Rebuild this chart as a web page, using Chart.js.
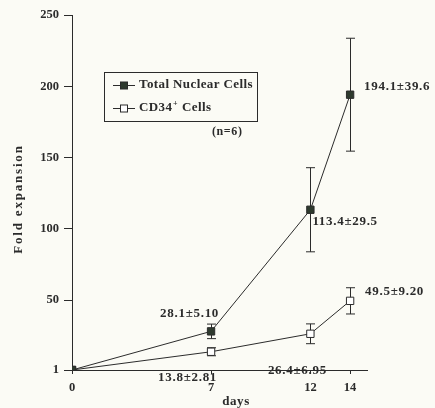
<!DOCTYPE html>
<html lang="en">
<head>
<meta charset="UTF-8">
<title>Fold expansion</title>
<script src="https://cdn.jsdelivr.net/npm/chart.js"></script>
<style>
  html, body { margin: 0; padding: 0; background: #fbfbf5; }
</style>
</head>
<body>
<canvas id="foldChart" width="435" height="408"></canvas>
<script>
// data
const days = [0, 7, 12, 14];
const totalCells = [1, 28.1, 113.4, 194.1];
const totalSD = [0, 5.10, 29.5, 39.6];
const cd34Cells = [1, 13.8, 26.4, 49.5];
const cd34SD = [0, 2.81, 6.95, 9.20];
const yTicks = [1, 50, 100, 150, 200, 250];
const totalLabels = ['', '28.1\u00b15.10', '113.4\u00b129.5', '194.1\u00b139.6'];
const cd34Labels = ['', '13.8\u00b12.81', '26.4\u00b16.95', '49.5\u00b19.20'];

const ink = '#2b2b2b';
const serif = '"Liberation Serif", "DejaVu Serif", serif';

// offsets of the value labels from their marker (dx, dy, align)
const totalOffsets = [null, [8, -18, 'right'], [2, 12, 'left'], [14, -8, 'left']];
const cd34Offsets = [null, [6, 26, 'right'], [-13, 37, 'center'], [15, -9, 'left']];

const extras = {
    id: 'extras',
    beforeDraw(chart) {
        const ctx = chart.ctx;
        ctx.save();
        ctx.fillStyle = '#fbfbf5';
        ctx.fillRect(0, 0, chart.width, chart.height);
        ctx.restore();
    },
    beforeDatasetsDraw(chart) {
        // error bars
        const {ctx, scales: {x, y}} = chart;
        ctx.save();
        ctx.strokeStyle = ink;
        ctx.lineWidth = 1;
        [[totalCells, totalSD], [cd34Cells, cd34SD]].forEach(([vals, sds]) => {
            vals.forEach((v, i) => {
                if (!sds[i]) return;
                const px = Math.round(x.getPixelForValue(days[i])) + 0.5;
                const top = y.getPixelForValue(v + sds[i]);
                const bot = y.getPixelForValue(v - sds[i]);
                ctx.beginPath();
                ctx.moveTo(px, top); ctx.lineTo(px, bot);
                ctx.moveTo(px - 4.5, top); ctx.lineTo(px + 4.5, top);
                ctx.moveTo(px - 4.5, bot); ctx.lineTo(px + 4.5, bot);
                ctx.stroke();
            });
        });
        ctx.restore();
    },
    afterDatasetsDraw(chart) {
        const {ctx, scales: {x, y}} = chart;
        ctx.save();
        ctx.fillStyle = ink;
        ctx.textBaseline = 'middle';

        // value labels
        ctx.font = 'bold 13px ' + serif;
        ctx.letterSpacing = '0.7px';
        const put = (vals, labels, offs) => {
            vals.forEach((v, i) => {
                if (!labels[i]) return;
                const [dx, dy, al] = offs[i];
                ctx.textAlign = al;
                ctx.fillText(labels[i], x.getPixelForValue(days[i]) + dx, y.getPixelForValue(v) + dy);
            });
        };
        put(totalCells, totalLabels, totalOffsets);
        put(cd34Cells, cd34Labels, cd34Offsets);

        // n=6 note
        ctx.font = 'bold 12px ' + serif;
        ctx.letterSpacing = '0.6px';
        ctx.textAlign = 'left';
        ctx.fillText('(n=6)', 212, 132);

        // axis titles
        ctx.font = 'bold 13px ' + serif;
        ctx.letterSpacing = '0.6px';
        ctx.textAlign = 'center';
        ctx.fillText('days', 236, 402);
        ctx.save();
        ctx.translate(19, 199);
        ctx.rotate(-Math.PI / 2);
        ctx.letterSpacing = '1.8px';
        ctx.fillText('Fold expansion', 0, 0);
        ctx.restore();

        // legend box
        ctx.strokeStyle = ink;
        ctx.lineWidth = 1;
        ctx.strokeRect(104.5, 72.5, 153, 49);
        const ds = chart.data.datasets;
        [85, 108].forEach((ly, k) => {
            ctx.beginPath();
            ctx.moveTo(113, ly + 0.5); ctx.lineTo(135, ly + 0.5);
            ctx.stroke();
            ctx.fillStyle = ds[k].pointBackgroundColor;
            ctx.fillRect(120.5, ly - 3, 7, 7);
            ctx.strokeRect(120.5, ly - 3, 7, 7);
        });
        ctx.fillStyle = ink;
        ctx.textAlign = 'left';
        ctx.letterSpacing = '0.4px';
        ctx.font = 'bold 13px ' + serif;
        ctx.fillText('Total Nuclear Cells', 139, 85);
        ctx.fillText('CD34', 139, 108);
        const w = ctx.measureText('CD34').width;
        ctx.font = 'bold 8px ' + serif;
        ctx.fillText('+', 139 + w + 0.5, 104);
        const w2 = ctx.measureText('+').width;
        ctx.font = 'bold 13px ' + serif;
        ctx.fillText(' Cells', 139 + w + w2 + 1, 108);
        ctx.restore();
    }
};

const tickFont = { family: serif, size: 12.5, weight: 'bold' };

const foldChart = new Chart(document.getElementById('foldChart'), {
    type: 'line',
    data: {
        labels: days,
        datasets: [
            {
                label: 'Total Nuclear Cells',
                data: days.map((d, i) => ({x: d, y: totalCells[i]})),
                borderColor: ink,
                borderWidth: 1,
                pointStyle: 'rect',
                pointRadius: 5.2,
                pointBackgroundColor: '#2e3a2e',
                pointBorderColor: ink,
                pointBorderWidth: 1
            },
            {
                label: 'CD34+ Cells',
                data: days.map((d, i) => ({x: d, y: cd34Cells[i]})),
                borderColor: ink,
                borderWidth: 1,
                pointStyle: 'rect',
                pointRadius: 5.2,
                pointBackgroundColor: '#ffffff',
                pointBorderColor: ink,
                pointBorderWidth: 1
            }
        ]
    },
    options: {
        responsive: false,
        animation: false,
        layout: { padding: { top: 15, right: 68, left: 0, bottom: 0 } },
        plugins: { legend: { display: false }, tooltip: { enabled: false } },
        scales: {
            x: {
                type: 'linear',
                min: 0,
                max: 14.85,
                afterBuildTicks: s => { s.ticks = days.map(v => ({value: v})); },
                afterFit: s => { s.height = 38; },
                grid: { drawOnChartArea: false, tickLength: 4, color: ink },
                border: { color: ink, width: 1 },
                ticks: { color: ink, font: tickFont, padding: 6, maxRotation: 0 }
            },
            y: {
                min: 1,
                max: 250,
                afterBuildTicks: s => { s.ticks = yTicks.map(v => ({value: v})); },
                afterFit: s => { s.width = 72; },
                grid: { drawOnChartArea: false, tickLength: 8, color: ink },
                border: { color: ink, width: 1 },
                ticks: { color: ink, font: tickFont, padding: 5 }
            }
        }
    },
    plugins: [extras]
});
</script>
</body>
</html>
